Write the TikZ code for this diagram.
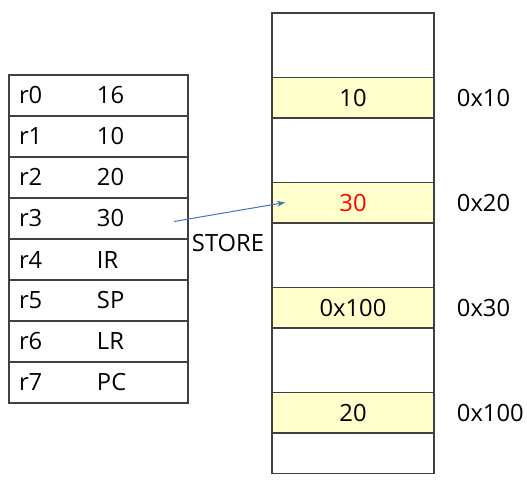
\documentclass[tikz,border=0pt]{standalone}
\usepackage{fontspec}
\setmainfont{Open Sans}
\usetikzlibrary{positioning}
\usetikzlibrary{calc}
\usetikzlibrary{arrows.meta}

\definecolor{cellyellow}{RGB}{255,255,204}
\definecolor{storeblue}{RGB}{68,114,196}
\definecolor{boxgray}{RGB}{64,64,64}

\newcommand{\regrow}[2]{\makebox[58.5pt][l]{#1}#2}

\tikzset{
  regcell/.style={draw=boxgray, line width=1pt, outer sep=0pt, minimum width=134.25pt, minimum height=30.75pt,
    text width=119.25pt, inner xsep=7.5pt, align=left, anchor=north west},
  memcell/.style={draw=boxgray, line width=1pt, outer sep=0pt, minimum width=121.5pt, inner sep=0pt},
  memfree/.style={memcell, minimum height=48.3pt},
  memused/.style={memcell, fill=cellyellow, minimum height=30.45pt},
  addr/.style={inner sep=0pt, anchor=west}
}

\begin{document}
\begin{tikzpicture}[x=0.75pt, y=-0.75pt, font=\fontsize{17.8pt}{21pt}\selectfont]
			\useasboundingbox (0,0) rectangle (527,483);
			% Registers
			\node[regcell] (r0) at (9,75) {\regrow{r0}{16}};
			\node[regcell, below=0pt of r0] (r1) {\regrow{r1}{10}};
			\node[regcell, below=0pt of r1] (r2) {\regrow{r2}{20}};
			\node[regcell, below=0pt of r2] (r3) {\regrow{r3}{30}};
			\node[regcell, below=0pt of r3] (r4) {\regrow{r4}{IR}};
			\node[regcell, below=0pt of r4] (r5) {\regrow{r5}{SP}};
			\node[regcell, below=0pt of r5] (r6) {\regrow{r6}{LR}};
			\node[regcell, below=0pt of r6] (r7) {\regrow{r7}{PC}};
			% Memory
			\node[memfree, anchor=north west] (m0) at (272,13) {};
			\node[memused, below=0pt of m0] (m1) {10};
			\node[memfree, below=0pt of m1] (m2) {};
			\node[memused, below=0pt of m2, text=red] (m3) {30};
			\node[memfree, below=0pt of m3] (m4) {};
			\node[memused, below=0pt of m4] (m5) {0x100};
			\node[memfree, below=0pt of m5] (m6) {};
			\node[memused, below=0pt of m6] (m7) {20};
			\node[memused, fill=none, below=0pt of m7] (m8) {};
			% Addresses
			\node[addr, right=17pt of m1] (a10) {0x10};
			\node[addr, right=17pt of m3] (a20) {0x20};
			\node[addr, right=17pt of m5] (a30) {0x30};
			\node[addr, right=17pt of m7] (a100) {0x100};
			% Store
			\coordinate (src) at (174,221.5);
			\coordinate (dst) at (285,202.5);
			\draw[-{Stealth[length=6pt, width=4.5pt]}, storeblue, line width=0.75pt] (src) -- (dst);
			\node (store) at (228,243) {STORE};
		\end{tikzpicture}
\end{document}
